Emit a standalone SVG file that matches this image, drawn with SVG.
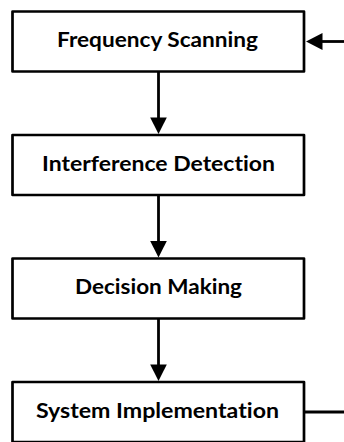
<svg xmlns="http://www.w3.org/2000/svg" width="344" height="442" viewBox="0 0 344 442">
<defs>
<style>
.box{fill:#fff;stroke:#000;stroke-width:2.7;stroke-linejoin:round}
.lbl{font-family:Lato,"Liberation Sans",sans-serif;font-weight:bold;font-size:21.5px;fill:#000;text-anchor:middle;font-variant-ligatures:none}
.conn{stroke:#000;stroke-width:2.8;fill:none}
.head{fill:#000}
</style>
</defs>
<rect width="344" height="442" fill="#fff"/>
<g id="connectors">
<line class="conn" x1="158.5" y1="72" x2="158.5" y2="119"/>
<polygon class="head" points="150.2,117.5 166.8,117.5 158.5,134"/>
<line class="conn" x1="158.5" y1="195.5" x2="158.5" y2="242"/>
<polygon class="head" points="150.2,241 166.8,241 158.5,257.5"/>
<line class="conn" x1="158.5" y1="319" x2="158.5" y2="366"/>
<polygon class="head" points="150.2,364.5 166.8,364.5 158.5,381"/>
<line class="conn" x1="304" y1="412" x2="344" y2="412"/>
<line class="conn" x1="320" y1="41.5" x2="344" y2="41.5"/>
<polygon class="head" points="322.5,33 322.5,50 306,41.5"/>
</g>
<g id="n1">
<rect class="box" x="12.5" y="11.5" width="291.5" height="60"/>
<text class="lbl" x="157.5" y="47" textLength="201" lengthAdjust="spacingAndGlyphs">Frequency Scanning</text>
</g>
<g id="n2">
<rect class="box" x="12.5" y="135" width="291.5" height="60"/>
<text class="lbl" x="158.5" y="170.5" textLength="233" lengthAdjust="spacingAndGlyphs">Interference Detection</text>
</g>
<g id="n3">
<rect class="box" x="12.5" y="258.5" width="291.5" height="60"/>
<text class="lbl" x="158.5" y="294" textLength="167" lengthAdjust="spacingAndGlyphs">Decision Making</text>
</g>
<g id="n4">
<rect class="box" x="12.5" y="382" width="291.5" height="60"/>
<text class="lbl" x="157.5" y="417.5" textLength="243" lengthAdjust="spacingAndGlyphs">System Implementation</text>
</g>
</svg>
